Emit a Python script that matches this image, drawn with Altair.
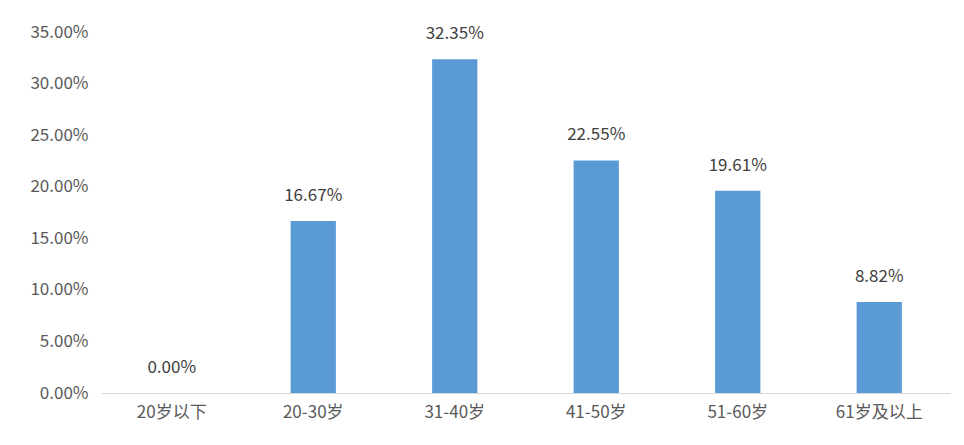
import altair as alt
import pandas as pd

categories = ["20岁以下", "20-30岁", "31-40岁", "41-50岁", "51-60岁", "61岁及以上"]
values = [0.0, 0.1667, 0.3235, 0.2255, 0.1961, 0.0882]
y_ticks = [0.0, 0.05, 0.10, 0.15, 0.20, 0.25, 0.30, 0.35]

df = pd.DataFrame({"cat": categories, "val": values})

FONT = "Noto Sans CJK SC"

x_enc = alt.X("cat:N", sort=categories, title=None,
              scale=alt.Scale(paddingInner=0.68, paddingOuter=0.34),
              axis=alt.Axis(labelAngle=0, ticks=False, domainColor="#D9D9D9",
                            labelFont=FONT, labelFontSize=17, labelColor="#595959",
                            labelPadding=11))
y_enc = alt.Y("val:Q", title=None,
              scale=alt.Scale(domain=[0, 0.35], nice=False),
              axis=alt.Axis(values=y_ticks, format=".2%", grid=False, ticks=False,
                            domain=False, labelFont=FONT, labelFontSize=17,
                            labelColor="#595959", labelPadding=13))

bars = alt.Chart(df).mark_bar(color="#5B9BD5").encode(x=x_enc, y=y_enc)
labels = alt.Chart(df).mark_text(font=FONT, fontSize=17, color="#404040",
                                 baseline="middle", dy=-25).encode(
    x=alt.X("cat:N", sort=categories),
    y="val:Q",
    text=alt.Text("val:Q", format=".2%"),
)

chart = (bars + labels).properties(
    width=849, height=361,
    autosize=alt.AutoSizeParams(type="none"),
    padding={"left": 93, "top": 24, "right": 6, "bottom": 44},
    background="white",
).configure_view(stroke=None)

chart.save("out.html", embed_options={"renderer": "svg", "actions": False})
